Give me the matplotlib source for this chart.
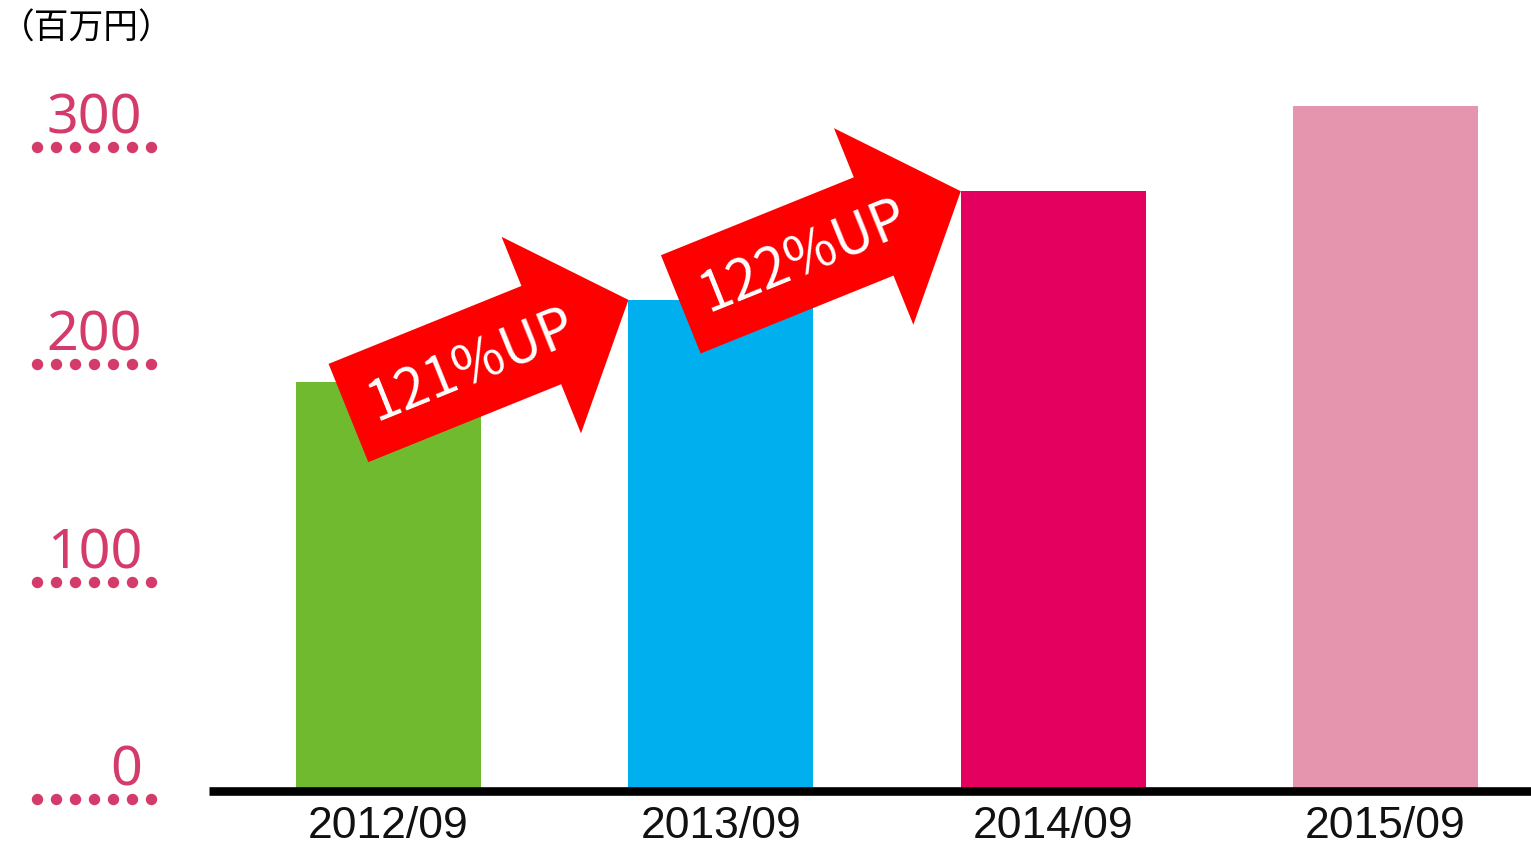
import numpy as np
import matplotlib
matplotlib.use("Agg")
import matplotlib.pyplot as plt
from matplotlib.patches import Polygon
from matplotlib import transforms as mtrans

# ---- data ----
categories = ["2012/09", "2013/09", "2014/09", "2015/09"]
values = [188, 226, 276, 315]
bar_colors = ["#70BA2F", "#00B0EE", "#E4005F", "#E695AF"]
yticks = [0, 100, 200, 300]
growth_labels = ["121%UP", "122%UP"]
unit_label = "（百万円）"

W, H, DPI = 1531, 849, 100
plt.rcParams['font.family'] = ['Noto Sans CJK JP', 'DejaVu Sans']

fig = plt.figure(figsize=(W / DPI, H / DPI), dpi=DPI)
ax = fig.add_axes([209 / W, (H - 791) / H, 1 - 209 / W, 791 / H])

x = np.arange(len(categories))
bw = 0.556
ax.bar(x, values, width=bw, color=bar_colors, zorder=1)
ax.set_xlim(-0.54, 3.4376)
ax.set_ylim(0, 364)

for s in ["top", "right", "left"]:
    ax.spines[s].set_visible(False)
sp = ax.spines["bottom"]
sp.set_linewidth(6.2)
sp.set_color("black")
sp.set_zorder(5)
sp.set_capstyle("butt")
ax.set_yticks([])
ax.set_xticks(x)
ax.set_xticklabels(categories, fontsize=32, color="#111111",
                   family=['Liberation Sans', 'DejaVu Sans'])
ax.tick_params(axis="x", length=0, pad=10.5)

# ---- y labels with dotted underline ----
tick_col = "#D43A6A"
blend = mtrans.blended_transform_factory(fig.transFigure, ax.transData)
dot_x = np.linspace(37, 151, 7) / W
for v in yticks:
    t_lab = blend + mtrans.ScaledTranslation(0, 20 / DPI, fig.dpi_scale_trans)
    ax.text(142 / W, v, str(v), transform=t_lab, ha="right", va="center",
            fontsize=40, color=tick_col, family=['Noto Sans', 'DejaVu Sans'],
            weight="medium", clip_on=False)
    t_dot = blend + mtrans.ScaledTranslation(0, -8 / DPI, fig.dpi_scale_trans)
    ax.plot(dot_x, [v] * len(dot_x), linestyle="none", marker="o",
            markersize=7.2, color=tick_col, transform=t_dot, clip_on=False)

# unit label
fig.text(0, 1 - 29 / H, unit_label, ha="left", va="center", fontsize=25,
         color="black")

# ---- growth arrows (tip at top-left corner of next bar) ----
L, SW, HW, HL = 302, 106, 212, 94  # pixel geometry
shape = np.array([
    [0, 0], [-HL, HW / 2], [-HL, SW / 2], [-L, SW / 2],
    [-L, -SW / 2], [-HL, -SW / 2], [-HL, -HW / 2]
]) / DPI
angle = 22
for i, lab in enumerate(growth_labels):
    tip_x = x[i + 1] - bw / 2
    tip_y = values[i + 1]
    tr = (mtrans.Affine2D().rotate_deg(angle) + fig.dpi_scale_trans
          + mtrans.ScaledTranslation(tip_x, tip_y, ax.transData))
    poly = Polygon(shape, closed=True, facecolor="#FF0000", edgecolor="none",
                   transform=tr, zorder=3, clip_on=False)
    ax.add_patch(poly)
    ax.text(-170 / DPI, -2 / DPI, lab, transform=tr, rotation=angle,
            rotation_mode="anchor", ha="center", va="center", fontsize=40,
            color="white", zorder=4, clip_on=False,
            family=['Noto Sans CJK JP', 'DejaVu Sans'])

fig.savefig("out.png", dpi=DPI)
